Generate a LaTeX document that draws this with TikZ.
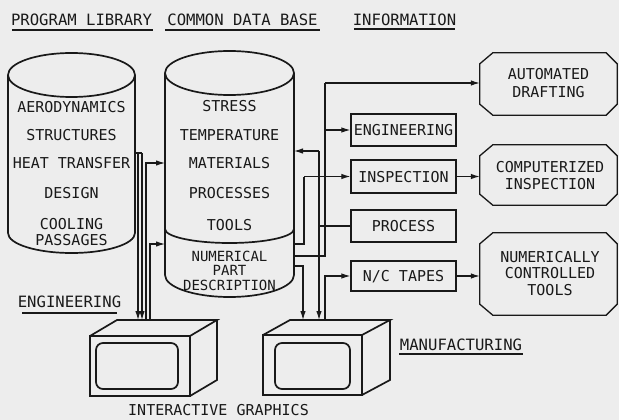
\documentclass[tikz,border=0pt]{standalone}
\usepackage{fontspec}
\newfontfamily\lf{DejaVu Sans Mono}
\usetikzlibrary{arrows.meta}
\begin{document}
\begin{tikzpicture}[x=1pt,y=-1pt,
  ink/.style={draw=black!90},
  lbl/.style={font=\lf\fontsize{15}{15}\selectfont, text=black!90, inner sep=0pt, text height=11pt, text depth=0pt},
  hlbl/.style={font=\lf\fontsize{15.6}{15.6}\selectfont, text=black!90, inner sep=0pt, text height=11pt, text depth=0pt},
  slbl/.style={font=\lf\fontsize{14}{14}\selectfont, text=black!90, inner sep=0pt, text height=10pt, text depth=0pt},
  heavy/.style={ink, line width=1.7pt},
  conn/.style={ink, line width=1.1pt},
  arr/.style={conn, -{Latex[length=9pt,width=5.5pt]}},
  ul/.style={ink, line width=1.2pt},
  infobox/.style={ink, line width=1.3pt, minimum width=105pt, inner sep=0pt},
  octo/.style={inner sep=0pt}
]
\fill[black!7] (0,0) rectangle (619,420);
\useasboundingbox (0,0) rectangle (619,420);

% ---- headings
\node[hlbl] (hPL) at (81.5,20) {PROGRAM LIBRARY};
\draw[ul] (12,30) -- (153,30);
\node[hlbl] (hCD) at (242.5,20) {COMMON DATA BASE};
\draw[ul] (165,30) -- (320,30);
\node[hlbl] (hIN) at (404.5,20) {INFORMATION};
\draw[ul] (354,29) -- (455,29);
\node[hlbl] (hEN) at (69.5,302) {ENGINEERING};
\draw[ul] (22,313) -- (117,313);
\node[hlbl] (hMF) at (461,345) {MANUFACTURING};
\draw[ul] (399,354) -- (523,354);
\node[lbl] (hIG) at (218.5,410) {INTERACTIVE GRAPHICS};

% ---- program library cylinder
\draw[heavy] (71.5,75) ellipse [x radius=63.5, y radius=22];
\draw[heavy] (8,75) -- (8,233) arc [start angle=180, end angle=0, x radius=63.5, y radius=20] -- (135,75);
\node[lbl] (p1) at (71.5,107) {AERODYNAMICS};
\node[lbl] (p2) at (71.5,135) {STRUCTURES};
\node[lbl] (p3) at (71.5,163) {HEAT TRANSFER};
\node[lbl] (p4) at (71.5,193) {DESIGN};
\node[lbl] (p5) at (71.5,224) {COOLING};
\node[lbl] (p6) at (71.5,240) {PASSAGES};

% ---- common data base cylinder
\draw[heavy] (229.5,73) ellipse [x radius=64.5, y radius=22];
\draw[heavy] (165,73) -- (165,275) arc [start angle=180, end angle=0, x radius=64.5, y radius=22] -- (294,73);
\draw[heavy] (165,229) arc [start angle=180, end angle=0, x radius=64.5, y radius=14];
\node[lbl] (d1) at (229.5,106) {STRESS};
\node[lbl] (d2) at (229.5,135) {TEMPERATURE};
\node[lbl] (d3) at (229.5,163) {MATERIALS};
\node[lbl] (d4) at (229.5,193) {PROCESSES};
\node[lbl] (d5) at (229.5,225) {TOOLS};
\node[slbl] (d6) at (229.5,256) {NUMERICAL};
\node[slbl] (d7) at (229.5,270) {PART};
\node[slbl] (d8) at (229.5,285) {DESCRIPTION};

% ---- monitors
\draw[heavy] (90,336) rectangle (190,396);
\draw[heavy] (90,336) -- (117,320) -- (217,320) -- (190,336);
\draw[heavy] (217,320) -- (217,380) -- (190,396);
\draw[heavy, rounded corners=7pt] (96,343) rectangle (178,389);

\draw[heavy] (263,335) rectangle (362,395);
\draw[heavy] (263,335) -- (290,320) -- (390,320) -- (362,335);
\draw[heavy] (390,320) -- (390,380) -- (362,395);
\draw[heavy, rounded corners=7pt] (275,343) rectangle (350,389);

% ---- information boxes
\node[infobox, draw, minimum height=32pt] (eng) at (403.5,130) {};
\node[lbl] at (eng) {ENGINEERING};
\node[infobox, draw, minimum height=33pt] (insp) at (403.5,176.5) {};
\node[lbl] at (insp) {INSPECTION};
\node[infobox, draw, minimum height=32pt] (proc) at (403.5,226) {};
\node[lbl] at (proc) {PROCESS};
\node[infobox, draw, minimum height=30pt] (nct) at (403.5,276) {};
\node[lbl] at (nct) {N/C TAPES};

% ---- chamfered result boxes
\node[octo, minimum width=137pt, minimum height=62pt] (ad) at (548.5,84) {};
\node[octo, minimum width=137pt, minimum height=60pt] (ci) at (548.5,175) {};
\node[octo, minimum width=137pt, minimum height=82pt] (nc) at (548.5,274) {};
\foreach \b in {ad,ci,nc}{
  \draw[ink, line width=1.3pt]
    ([xshift=13pt]\b.north west) -- ([xshift=-11pt]\b.north east) -- ([yshift=-11pt]\b.north east)
    -- ([yshift=11pt]\b.south east) -- ([xshift=-11pt]\b.south east) -- ([xshift=13pt]\b.south west)
    -- ([yshift=11pt]\b.south west) -- ([yshift=-11pt]\b.north west) -- cycle;
}
\node[lbl] (ad1) at (548.5,74) {AUTOMATED};
\node[lbl] (ad2) at (548.5,92) {DRAFTING};
\node[lbl] (ci1) at (550,167) {COMPUTERIZED};
\node[lbl] (ci2) at (550,184) {INSPECTION};
\node[lbl] (nc1) at (550,257) {NUMERICALLY};
\node[lbl] (nc2) at (550,273) {CONTROLLED};
\node[lbl] (nc3) at (550,290) {TOOLS};

% ---- connector end points
\coordinate (plA) at (135,153);
\coordinate (m1a) at (138,320);
\coordinate (m1b) at (142,320);
\coordinate (m1c) at (146,320);
\coordinate (m1d) at (150,320);
\coordinate (cdL1) at (165,163);
\coordinate (cdL2) at (165,244);
\coordinate (cdR1) at (294,151);
\coordinate (cdR2) at (294,244);
\coordinate (cdR3) at (294,256);
\coordinate (cdR4) at (294,266);
\coordinate (m2a) at (303,320);
\coordinate (m2b) at (319,320);
\coordinate (m2c) at (325,320);

% program library -> engineering graphics
\draw[conn] (plA) -- (142,153);
\draw[arr] (138,153) -- (m1a);
\draw[arr] (142,153) -- (m1b);
% engineering graphics -> data base
\draw[arr] (m1c) |- (cdL1);
\draw[arr] (m1d) |- (cdL2);

% data base -> automated drafting / engineering
\draw[conn] (cdR3) -| (325,83);
\draw[arr] (325,83) -- (325,83 -| ad.west);
\draw[arr] (325,130) -- (eng.west);
% data base -> inspection
\draw[conn] (cdR2) -| (304,176.5);
\draw[arr] (304,176.5) -- (insp.west);
% process -> data base and manufacturing graphics
\draw[conn] (proc.west) -- (319,226);
\draw[arr] (319,151) -- (cdR1);
\draw[arr] (319,151) -- (m2b);
% data base -> manufacturing graphics
\draw[arr] (cdR4) -| (m2a);
% manufacturing graphics -> N/C tapes
\draw[arr] (m2c) |- (nct.west);
% results
\draw[arr] (insp.east) -- (insp.east -| ci.west);
\draw[arr] (nct.east) -- (nct.east -| nc.west);
\end{tikzpicture}
\end{document}
